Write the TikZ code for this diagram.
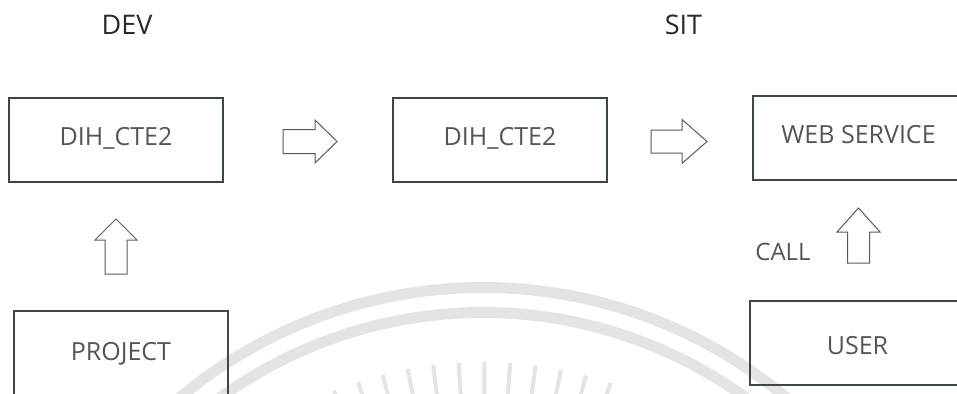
\documentclass[tikz,border=0pt]{standalone}
\usepackage{fontspec}
\setmainfont{Open Sans}
\definecolor{boxline}{HTML}{3B4A45}
\definecolor{arrowline}{HTML}{5A5A5A}
\definecolor{boxtext}{HTML}{555555}
\definecolor{headtext}{HTML}{2A2A2A}
\definecolor{wmark}{HTML}{E4E4E4}
\begin{document}
\begin{tikzpicture}[x=1pt,y=-1pt,
  stagebox/.style={draw=boxline, line width=1.3pt, inner sep=0pt, minimum height=84pt,
    font=\fontsize{25}{25}\selectfont, text=boxtext, text height=17.9pt, text depth=7pt},
  headlabel/.style={font=\fontsize{27}{27}\selectfont, text=headtext, inner sep=0pt},
  arrowstroke/.style={draw=arrowline, line width=1pt, line join=miter},
  wm/.style={draw=wmark, line width=11pt},
  wmray/.style={draw=wmark, line width=4pt}]
\useasboundingbox (0,0) rectangle (957,393);
% watermark seal
\begin{scope}
\clip (0,0) rectangle (957,393);
\draw[wm] (483,760) ++(-140:472.5) arc[start angle=-140, end angle=-40, radius=472.5];
\draw[wm] (483,760) ++(-140:447.5) arc[start angle=-140, end angle=-40, radius=447.5];
\foreach \a in {68,71.7,...,112.1}{
  \draw[wmray] (483,760) ++(\a:-398) -- ++(\a:60);
}
\end{scope}
% headings
\node[headlabel] (dev) at (127,25) {DEV};
\node[headlabel] (sit) at (683.5,25) {SIT};
% boxes
\node[stagebox, minimum width=214pt] (b1) at (116,140) {DIH\_CTE2};
\node[stagebox, minimum width=214pt] (b2) at (500,140) {DIH\_CTE2};
\node[stagebox, minimum width=211pt] (b3) at (858.5,138) {WEB SERVICE};
\node[stagebox, minimum width=214pt, minimum height=89pt] (b4) at (121,355.5) {PROJECT};
\node[stagebox, minimum width=215pt, text height=23.9pt, text depth=0pt] (b5) at (857.5,343) {USER};
% block arrows (tail points)
\coordinate (t1) at (283,141.5);
\coordinate (t2) at (651,141.5);
\coordinate (t3) at (116,274);
\coordinate (t4) at (858.5,263);
\draw[arrowstroke, shift={(t1)}] (0,-12) -- (32,-12) -- (32,-21.5) -- (54,0) -- (32,21.5) -- (32,12) -- (0,12) -- cycle;
\draw[arrowstroke, shift={(t2)}] (0,-11.5) -- (31,-11.5) -- (31,-22) -- (56,0) -- (31,22) -- (31,11.5) -- (0,11.5) -- cycle;
\draw[arrowstroke, shift={(t3)}] (-11,0) -- (-11,-34) -- (-21,-34) -- (0,-55) -- (21,-34) -- (11,-34) -- (11,0) -- cycle;
\draw[arrowstroke, shift={(t4)}] (-11,0) -- (-11,-31) -- (-21.5,-31) -- (0,-55) -- (21.5,-31) -- (11,-31) -- (11,0) -- cycle;
\node[font=\fontsize{24}{24}\selectfont, text=boxtext, inner sep=0pt] (call) at (783,252) {CALL};
\end{tikzpicture}
\end{document}
